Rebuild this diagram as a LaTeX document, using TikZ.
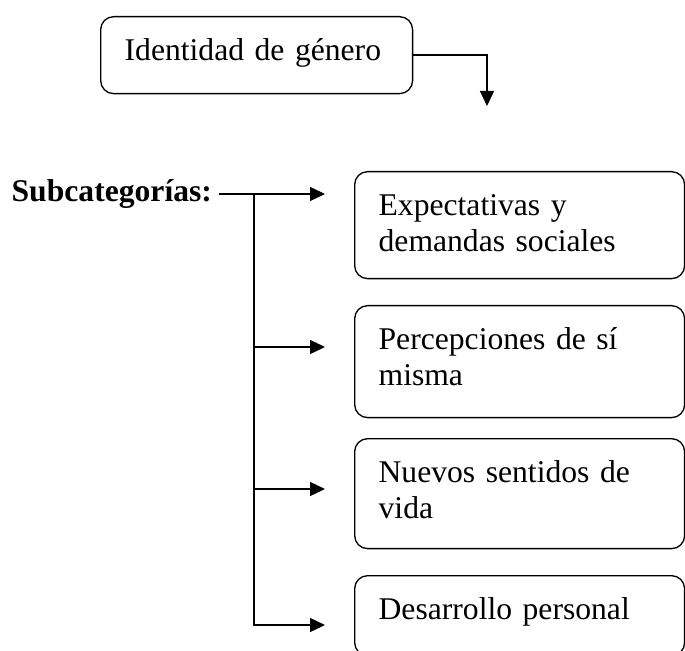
\documentclass[tikz,border=0pt]{standalone}
\usepackage{fontspec}
\setmainfont{Liberation Serif}
\usetikzlibrary{arrows.meta}
\tikzset{
  caja/.style={draw, rounded corners=0.26cm, anchor=north west, align=left,
    inner xsep=0.48cm, inner ysep=0.4cm, text height=0.48cm},
  flecha/.style={-{Triangle[length=0.3cm,width=0.28cm]}}
}
\begin{document}
\begin{tikzpicture}[x=0.02cm, y=-0.02cm, line width=0.75pt, font=\fontsize{18}{20.5}\selectfont]
\path[use as bounding box] (0,0) rectangle (685,651);
\node[caja, text width=5.28cm, text depth=0.26cm] (ident) at (100,16) {Identidad de género};
\coordinate (baja) at (487,106);
\draw[flecha] (ident.east) -| (baja);
\node[anchor=base west, inner sep=0pt] (sub) at (11,202) {\bfseries Subcategorías:};
\node[caja, text width=5.64cm, text depth=0.86cm] (expec) at (354,171) {Expectativas y\\demandas sociales};
\node[caja, text width=5.64cm, text depth=0.96cm] (percep) at (354,305) {Percepciones de sí\\misma};
\node[caja, text width=5.64cm, text depth=0.92cm] (nuevos) at (354,438) {Nuevos sentidos de\\vida};
\node[caja, text width=5.64cm, text depth=0.32cm] (desarr) at (354,575) {Desarrollo personal};
\coordinate (t1) at (325,194);
\coordinate (t2) at (325,347);
\coordinate (t3) at (325,489);
\coordinate (t4) at (325,625);
\coordinate (rama) at (254,194);
\draw[flecha, shorten <=0.13cm] (sub.east |- t1) -- (t1);
\draw[flecha] (rama) |- (t4);
\draw[flecha] (rama |- t2) -- (t2);
\draw[flecha] (rama |- t3) -- (t3);
\end{tikzpicture}
\end{document}
